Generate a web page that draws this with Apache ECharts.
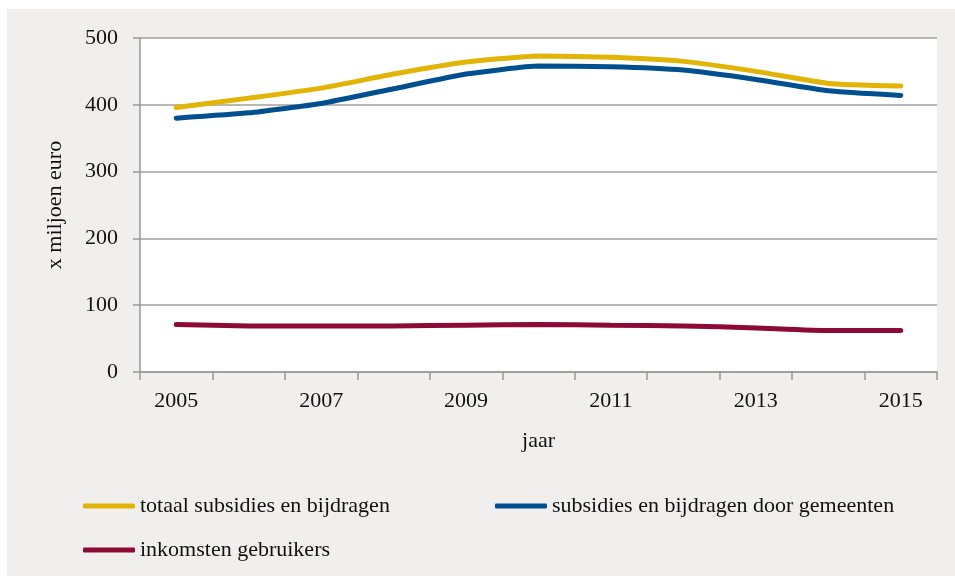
<!DOCTYPE html>
<html>
<head>
    <meta charset="utf-8">
    <title>subsidies en bijdragen</title>
    <script type="text/javascript" src="https://cdn.jsdelivr.net/npm/echarts@6/dist/echarts.min.js"></script>
    <style type="text/css">
    html,body{
        margin: 0;
        padding: 0;
        background: #fff;
    }
        #bg{
            position: absolute;
            left: 7px;
            top: 9px;
            width: 948px;
            height: 567px;
            background: #f0efed;
        }
        #main{
            position: absolute;
            left: 0;
            top: 0;
            width: 955px;
            height: 576px;
        }
    </style>
</head>
<body>
    <div id="bg"></div>
    <div id="main"></div>

	<script type="text/javascript">
var years = ['2005','2006','2007','2008','2009','2010','2011','2012','2013','2014','2015'];
var totaal = [396, 410, 425, 446, 464, 473, 471, 465, 450, 432, 428];
var gemeenten = [380, 388, 402, 424, 446, 458, 457, 452, 438, 421, 414];
var gebruikers = [71, 69, 69, 69, 70, 71, 70, 69, 66, 62, 62];
var yTicks = [0, 100, 200, 300, 400, 500];

var names = ['totaal subsidies en bijdragen', 'subsidies en bijdragen door gemeenten', 'inkomsten gebruikers'];
var colors = ['#e2b406', '#004f8f', '#8c0a37'];
var font = 'Liberation Serif';

var myChart = echarts.init(document.getElementById('main'));

function legendAt(name, left, top) {
    return {
        data: [name],
        left: left,
        top: top,
        padding: 0,
        icon: 'roundRect',
        itemWidth: 52,
        itemHeight: 5,
        textStyle: {fontFamily: font, fontSize: 22, color: '#111', padding: [0, 0, 0, 0]}
    };
}

function lineSeries(i, values) {
    return {
        name: names[i],
        type: 'line',
        data: values,
        smooth: 0.15,
        symbol: 'none',
        lineStyle: {width: 5, color: colors[i], cap: 'round'},
        itemStyle: {color: colors[i]}
    };
}

myChart.setOption({
    animation: false,
    grid: {
        left: 140,
        top: 38,
        width: 797,
        height: 334,
        show: true,
        backgroundColor: '#fff',
        borderWidth: 0
    },
    legend: [
        legendAt(names[0], 83, 495),
        legendAt(names[1], 495, 495),
        legendAt(names[2], 83, 539)
    ],
    xAxis: {
        type: 'category',
        data: years,
        boundaryGap: true,
        name: 'jaar',
        nameLocation: 'middle',
        nameGap: 58,
        nameTextStyle: {fontFamily: font, fontSize: 22, color: '#111'},
        axisLine: {lineStyle: {color: '#999', width: 1.5}},
        axisTick: {show: true, length: 8, interval: 0, lineStyle: {color: '#999', width: 1.5}},
        axisLabel: {interval: 1, margin: 18, fontFamily: font, fontSize: 22, color: '#111'}
    },
    yAxis: {
        type: 'value',
        min: yTicks[0],
        max: yTicks[yTicks.length - 1],
        interval: 100,
        name: 'x miljoen euro',
        nameLocation: 'middle',
        nameGap: 74,
        nameTextStyle: {fontFamily: font, fontSize: 22, color: '#111'},
        axisLine: {show: true, lineStyle: {color: '#999', width: 1.5}},
        axisTick: {show: true, length: 7, lineStyle: {color: '#999', width: 1.5}},
        axisLabel: {margin: 22, fontFamily: font, fontSize: 22, color: '#111'},
        splitLine: {lineStyle: {color: '#a0a0a0', width: 1.5}}
    },
    series: [
        lineSeries(0, totaal),
        lineSeries(1, gemeenten),
        lineSeries(2, gebruikers)
    ]
});
	</script>

</body>
</html>
